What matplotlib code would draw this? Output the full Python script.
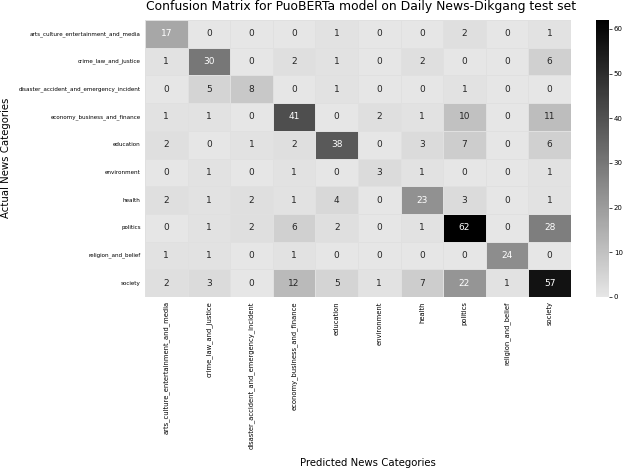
import numpy as np
import matplotlib
matplotlib.use("Agg")
import matplotlib.pyplot as plt
import seaborn as sns
from matplotlib.colors import LinearSegmentedColormap

# ===========================
# DATA
# ===========================
categories = [
    "arts_culture_entertainment_and_media",
    "crime_law_and_justice",
    "disaster_accident_and_emergency_incident",
    "economy_business_and_finance",
    "education",
    "environment",
    "health",
    "politics",
    "religion_and_belief",
    "society",
]

row_arts = [17, 0, 0, 0, 1, 0, 0, 2, 0, 1]
row_crime = [1, 30, 0, 2, 1, 0, 2, 0, 0, 6]
row_disaster = [0, 5, 8, 0, 1, 0, 0, 1, 0, 0]
row_economy = [1, 1, 0, 41, 0, 2, 1, 10, 0, 11]
row_education = [2, 0, 1, 2, 38, 0, 3, 7, 0, 6]
row_environment = [0, 1, 0, 1, 0, 3, 1, 0, 0, 1]
row_health = [2, 1, 2, 1, 4, 0, 23, 3, 0, 1]
row_politics = [0, 1, 2, 6, 2, 0, 1, 62, 0, 28]
row_religion = [1, 1, 0, 1, 0, 0, 0, 0, 24, 0]
row_society = [2, 3, 0, 12, 5, 1, 7, 22, 1, 57]

cm = np.array([
    row_arts, row_crime, row_disaster, row_economy, row_education,
    row_environment, row_health, row_politics, row_religion, row_society,
])

# ===========================
# PLOT
# ===========================
cmap = LinearSegmentedColormap.from_list("light_black", ["#e6e6e6", "#000000"])

fig = plt.figure(figsize=(6.23, 4.70), dpi=100)
ax = fig.add_axes([0.2327, 0.3681, 0.6838, 0.5893])
cax = fig.add_axes([0.9567, 0.3681, 0.0209, 0.5893])

sns.heatmap(
    cm,
    ax=ax,
    cbar_ax=cax,
    cmap=cmap,
    annot=True,
    fmt="d",
    annot_kws={"fontsize": 6.5},
    linewidths=0.5,
    linecolor="#e0e0e0",
    xticklabels=categories,
    yticklabels=categories,
)

ax.tick_params(axis="both", length=0, pad=3)
ax.set_xticklabels(categories, rotation=90, fontsize=4.85)
ax.set_yticklabels(categories, rotation=0, fontsize=4.1)

cax.tick_params(labelsize=5, length=2, width=0.5, pad=1.5)
cax.set_yticks([0, 10, 20, 30, 40, 50, 60])

fig.text(0.580, 0.986, "Confusion Matrix for PuoBERTa model on Daily News-Dikgang test set",
         ha="center", va="center", fontsize=8.9)
fig.text(0.590, 0.014, "Predicted News Categories", ha="center", va="center", fontsize=7.3)
fig.text(0.009, 0.664, "Actual News Categories", ha="center", va="center",
         rotation=90, fontsize=7.3)

fig.savefig("out.png", dpi=100)
